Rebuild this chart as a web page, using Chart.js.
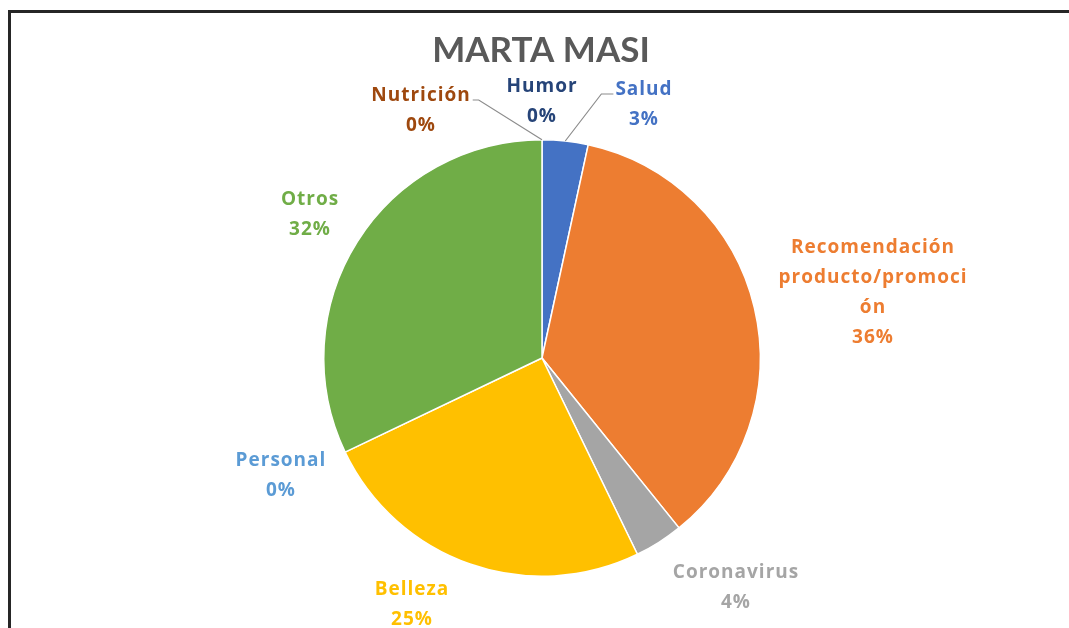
<!DOCTYPE html>
<html>
<head>
<meta charset="utf-8">
<script src="https://cdn.jsdelivr.net/npm/chart.js@4"></script>
<style>
  html, body { margin: 0; padding: 0; background: #fff; overflow: hidden; }
  #wrap { position: relative; width: 1069px; height: 628px; }
  #frame {
    position: absolute; left: 8px; top: 10px;
    width: 1100px; height: 700px;
    border: 3px solid #262626; box-sizing: border-box;
  }
  canvas { position: absolute; left: 0; top: 0; }
</style>
</head>
<body>
<div id="wrap">
  <div id="frame"></div>
  <canvas id="pieChart" width="1069" height="628"></canvas>
</div>
<script>
// --- Data ---
const categories = ['Salud', 'Recomendación producto/promoción', 'Coronavirus', 'Belleza', 'Personal', 'Otros', 'Nutrición', 'Humor'];
const labelLines = [['Salud'], ['Recomendación', 'producto/promoci', 'ón'], ['Coronavirus'], ['Belleza'], ['Personal'], ['Otros'], ['Nutrición'], ['Humor']];
const shares = [3.4, 35.8, 3.6, 25.1, 0, 32.1, 0, 0];
const sliceColors = ['#4472C4', '#ED7D31', '#A5A5A5', '#FFC000', '#5B9BD5', '#70AD47', '#9E480E', '#264478'];
const chartTitle = 'MARTA MASI';

// label placement (offset of first text line from the pie centre), Excel-style
const labelPlacement = [
  { dx: 102, dy: -268, leader: 'right' },
  { dx: 331, dy: -110 },
  { dx: 194, dy: 215 },
  { dx: -130, dy: 232 },
  { dx: -261, dy: 103 },
  { dx: -232, dy: -158 },
  { dx: -121, dy: -262, leader: 'left' },
  { dx: 0, dy: -271 }
];

const labelFont = 'bold 19px "Open Sans", Lato, sans-serif';

// draws title, data labels and leader lines
const excelLabels = {
  id: 'excelLabels',
  afterDatasetsDraw(chart) {
    const ctx = chart.ctx;
    const meta = chart.getDatasetMeta(0);
    const total = shares.reduce((a, b) => a + b, 0);

    ctx.save();
    ctx.fillStyle = '#595959';
    ctx.font = 'bold 35px Lato, "Open Sans", sans-serif';
    ctx.textAlign = 'center';
    ctx.textBaseline = 'middle';
    ctx.fillText(chartTitle, 541, 51);

    ctx.font = labelFont;
    ctx.letterSpacing = '1px';
    meta.data.forEach((arc, i) => {
      const cx = arc.x, cy = arc.y;
      const place = labelPlacement[i];
      const lx = cx + place.dx, ly = cy + place.dy;
      const lines = labelLines[i].concat([Math.round(shares[i] / total * 100) + '%']);

      ctx.fillStyle = sliceColors[i];
      lines.forEach((t, k) => ctx.fillText(t, lx, ly + k * 30));

      if (place.leader) {
        const mid = (arc.startAngle + arc.endAngle) / 2;
        const px = cx + Math.cos(mid) * arc.outerRadius;
        const py = cy + Math.sin(mid) * arc.outerRadius;
        const w = ctx.measureText(labelLines[i][0]).width;
        const sy = ly + 4;
        let sx, kx;
        if (place.leader === 'left') { sx = lx + w / 2 + 2; kx = sx + 6; }
        else { sx = lx - w / 2 - 2; kx = sx - 12; }
        ctx.strokeStyle = '#8c8c8c';
        ctx.lineWidth = 1.2;
        ctx.beginPath();
        ctx.moveTo(sx, sy);
        ctx.lineTo(kx, sy);
        ctx.lineTo(px, py);
        ctx.stroke();
      }
    });
    ctx.restore();
  }
};

new Chart(document.getElementById('pieChart'), {
  type: 'pie',
  data: {
    labels: categories,
    datasets: [{
      data: shares,
      backgroundColor: sliceColors,
      borderColor: '#ffffff',
      borderWidth: 1.5
    }]
  },
  options: {
    responsive: false,
    animation: false,
    layout: { padding: { top: 139, bottom: 51, left: 115, right: 100 } },
    plugins: {
      legend: { display: false },
      tooltip: { enabled: false },
      title: { display: false }
    }
  },
  plugins: [excelLabels]
});
</script>
</body>
</html>
